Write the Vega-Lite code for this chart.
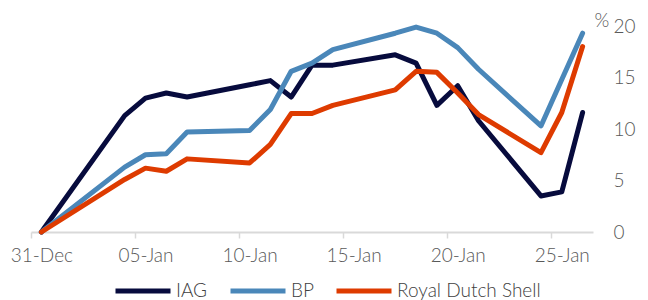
{
  "$schema": "https://vega.github.io/schema/vega-lite/v6.json",
  "width": 562,
  "height": 206,
  "autosize": {"type": "none"},
  "padding": {"left": 31, "top": 26, "right": 55, "bottom": 68},
  "background": "white",
  "config": {
    "view": {"stroke": null},
    "font": "Lato",
    "axis": {"labelFont": "Lato", "titleFont": "Lato", "labelFontWeight": 300, "titleFontWeight": 300},
    "legend": {"labelFont": "Lato", "labelFontWeight": 300}
  },
  "data": {
    "values": [
      {"date": "2021-12-31T12:00:00", "series": "IAG", "value": 0},
      {"date": "2022-01-04T12:00:00", "series": "IAG", "value": 11.3},
      {"date": "2022-01-05T12:00:00", "series": "IAG", "value": 13.0},
      {"date": "2022-01-06T12:00:00", "series": "IAG", "value": 13.5},
      {"date": "2022-01-07T12:00:00", "series": "IAG", "value": 13.1},
      {"date": "2022-01-10T12:00:00", "series": "IAG", "value": 14.3},
      {"date": "2022-01-11T12:00:00", "series": "IAG", "value": 14.7},
      {"date": "2022-01-12T12:00:00", "series": "IAG", "value": 13.1},
      {"date": "2022-01-13T12:00:00", "series": "IAG", "value": 16.2},
      {"date": "2022-01-14T12:00:00", "series": "IAG", "value": 16.2},
      {"date": "2022-01-17T12:00:00", "series": "IAG", "value": 17.2},
      {"date": "2022-01-18T12:00:00", "series": "IAG", "value": 16.4},
      {"date": "2022-01-19T12:00:00", "series": "IAG", "value": 12.3},
      {"date": "2022-01-20T12:00:00", "series": "IAG", "value": 14.2},
      {"date": "2022-01-21T12:00:00", "series": "IAG", "value": 10.8},
      {"date": "2022-01-24T12:00:00", "series": "IAG", "value": 3.5},
      {"date": "2022-01-25T12:00:00", "series": "IAG", "value": 3.9},
      {"date": "2022-01-26T12:00:00", "series": "IAG", "value": 11.6},
      {"date": "2021-12-31T12:00:00", "series": "BP", "value": 0},
      {"date": "2022-01-04T12:00:00", "series": "BP", "value": 6.3},
      {"date": "2022-01-05T12:00:00", "series": "BP", "value": 7.5},
      {"date": "2022-01-06T12:00:00", "series": "BP", "value": 7.6},
      {"date": "2022-01-07T12:00:00", "series": "BP", "value": 9.7},
      {"date": "2022-01-10T12:00:00", "series": "BP", "value": 9.85},
      {"date": "2022-01-11T12:00:00", "series": "BP", "value": 11.9},
      {"date": "2022-01-12T12:00:00", "series": "BP", "value": 15.6},
      {"date": "2022-01-13T12:00:00", "series": "BP", "value": 16.4},
      {"date": "2022-01-14T12:00:00", "series": "BP", "value": 17.7},
      {"date": "2022-01-17T12:00:00", "series": "BP", "value": 19.3},
      {"date": "2022-01-18T12:00:00", "series": "BP", "value": 19.9},
      {"date": "2022-01-19T12:00:00", "series": "BP", "value": 19.3},
      {"date": "2022-01-20T12:00:00", "series": "BP", "value": 17.9},
      {"date": "2022-01-21T12:00:00", "series": "BP", "value": 15.8},
      {"date": "2022-01-24T12:00:00", "series": "BP", "value": 10.3},
      {"date": "2022-01-25T12:00:00", "series": "BP", "value": 14.8},
      {"date": "2022-01-26T12:00:00", "series": "BP", "value": 19.3},
      {"date": "2021-12-31T12:00:00", "series": "Royal Dutch Shell", "value": 0},
      {"date": "2022-01-04T12:00:00", "series": "Royal Dutch Shell", "value": 5.1},
      {"date": "2022-01-05T12:00:00", "series": "Royal Dutch Shell", "value": 6.2},
      {"date": "2022-01-06T12:00:00", "series": "Royal Dutch Shell", "value": 5.9},
      {"date": "2022-01-07T12:00:00", "series": "Royal Dutch Shell", "value": 7.1},
      {"date": "2022-01-10T12:00:00", "series": "Royal Dutch Shell", "value": 6.7},
      {"date": "2022-01-11T12:00:00", "series": "Royal Dutch Shell", "value": 8.5},
      {"date": "2022-01-12T12:00:00", "series": "Royal Dutch Shell", "value": 11.5},
      {"date": "2022-01-13T12:00:00", "series": "Royal Dutch Shell", "value": 11.5},
      {"date": "2022-01-14T12:00:00", "series": "Royal Dutch Shell", "value": 12.3},
      {"date": "2022-01-17T12:00:00", "series": "Royal Dutch Shell", "value": 13.8},
      {"date": "2022-01-18T12:00:00", "series": "Royal Dutch Shell", "value": 15.6},
      {"date": "2022-01-19T12:00:00", "series": "Royal Dutch Shell", "value": 15.5},
      {"date": "2022-01-20T12:00:00", "series": "Royal Dutch Shell", "value": 13.5},
      {"date": "2022-01-21T12:00:00", "series": "Royal Dutch Shell", "value": 11.4},
      {"date": "2022-01-24T12:00:00", "series": "Royal Dutch Shell", "value": 7.7},
      {"date": "2022-01-25T12:00:00", "series": "Royal Dutch Shell", "value": 11.6},
      {"date": "2022-01-26T12:00:00", "series": "Royal Dutch Shell", "value": 18.0}
    ]
  },
  "mark": {"type": "line", "strokeWidth": 5, "strokeJoin": "round", "strokeCap": "round"},
  "encoding": {
    "x": {
      "field": "date",
      "type": "temporal",
      "scale": {
        "domain": [
          {"year": 2021, "month": 12, "date": 31},
          {"year": 2022, "month": 1, "date": 27}
        ]
      },
      "axis": {
        "title": null,
        "format": "%d-%b",
        "values": [
          {"year": 2021, "month": 12, "date": 31},
          {"year": 2022, "month": 1, "date": 5},
          {"year": 2022, "month": 1, "date": 10},
          {"year": 2022, "month": 1, "date": 15},
          {"year": 2022, "month": 1, "date": 20},
          {"year": 2022, "month": 1, "date": 25}
        ],
        "labelOffset": 10.4,
        "labelFontSize": 19,
        "labelColor": "#595959",
        "labelPadding": 8,
        "domainColor": "#d9d9d9",
        "domainWidth": 2,
        "tickColor": "#d9d9d9",
        "tickWidth": 1.5,
        "tickSize": 6,
        "grid": false,
        "labelFlush": false,
        "labelOverlap": false
      }
    },
    "y": {
      "field": "value",
      "type": "quantitative",
      "scale": {"domain": [0, 20], "nice": false},
      "axis": {
        "orient": "right",
        "values": [0, 5, 10, 15, 20],
        "title": "%",
        "titleAngle": 0,
        "titleX": 8.5,
        "titleY": -6,
        "titleAlign": "center",
        "titleBaseline": "middle",
        "titleFontSize": 19,
        "titleColor": "#595959",
        "labelFontSize": 19,
        "labelColor": "#595959",
        "labelPadding": 20,
        "domain": false,
        "ticks": false,
        "grid": false
      }
    },
    "color": {
      "field": "series",
      "type": "nominal",
      "scale": {
        "domain": ["IAG", "BP", "Royal Dutch Shell"],
        "range": ["#070b3d", "#4a87b9", "#de3b00"]
      },
      "legend": {
        "title": null,
        "orient": "none",
        "direction": "horizontal",
        "legendX": 82,
        "legendY": 235,
        "symbolType": "stroke",
        "symbolSize": 3025,
        "symbolStrokeWidth": 5,
        "labelFontSize": 19,
        "labelColor": "#404040",
        "labelOffset": 3,
        "columnPadding": 12
      }
    }
  }
}
